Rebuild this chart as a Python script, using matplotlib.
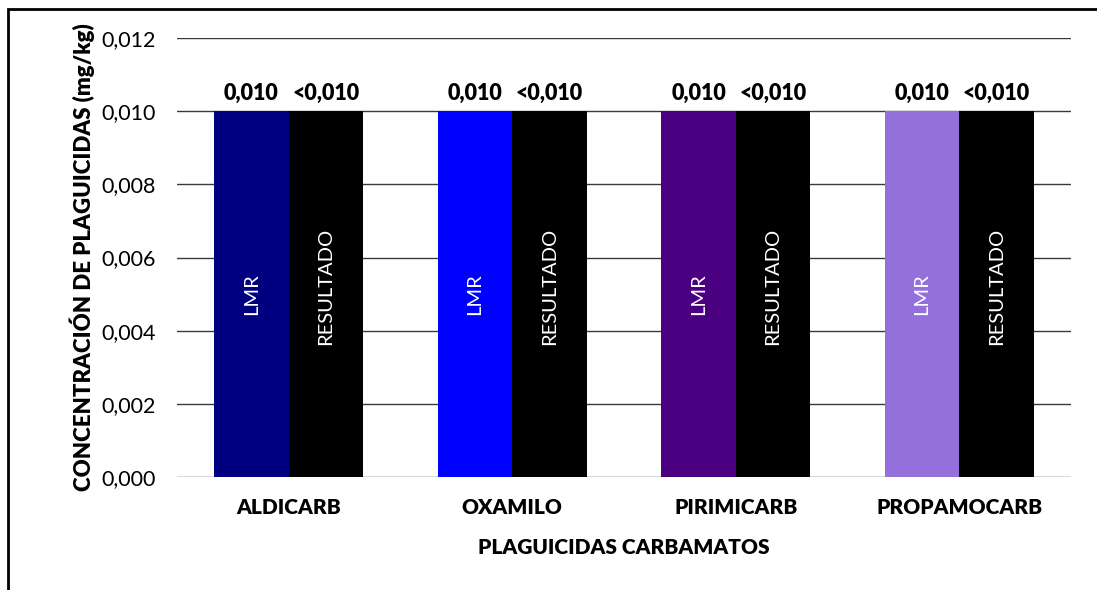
import matplotlib
matplotlib.use("Agg")
import matplotlib.pyplot as plt
from matplotlib.patches import Rectangle
import numpy as np

categories = ["ALDICARB", "OXAMILO", "PIRIMICARB", "PROPAMOCARB"]
lmr_values = [0.010, 0.010, 0.010, 0.010]
resultado_values = [0.010, 0.010, 0.010, 0.010]
lmr_labels = ["0,010", "0,010", "0,010", "0,010"]
resultado_labels = ["<0,010", "<0,010", "<0,010", "<0,010"]
lmr_colors = ["#000080", "#0000FF", "#4B0082", "#9370DB"]
resultado_color = "#000000"
yticks = [0.000, 0.002, 0.004, 0.006, 0.008, 0.010, 0.012]
ytick_labels = ["0,000", "0,002", "0,004", "0,006", "0,008", "0,010", "0,012"]

plt.rcParams['font.family'] = ['Lato', 'DejaVu Sans']
BW = 'heavy'

W, H = 1097, 590
fig = plt.figure(figsize=(W / 100, H / 100), dpi=100)
ax = fig.add_axes([177 / W, 1 - 477 / H, (1071 - 177) / W, (477 - 38) / H])

x = np.arange(len(categories))
bw = 1 / 3
ax.bar(x - bw / 2, lmr_values, bw, color=lmr_colors, zorder=3)
ax.bar(x + bw / 2, resultado_values, bw, color=resultado_color, zorder=3)

for i in range(len(categories)):
    ax.text(x[i] - bw / 2, lmr_values[i] + 0.0002, lmr_labels[i], ha='center', va='bottom',
            fontsize=15.5, fontweight=BW, color='black')
    ax.text(x[i] + bw / 2, resultado_values[i] + 0.0002, resultado_labels[i], ha='center', va='bottom',
            fontsize=15.5, fontweight=BW, color='black')
    ax.text(x[i] - bw / 2, lmr_values[i] / 2, "LMR", rotation=90, ha='center', va='center',
            fontsize=14.5, color='white', zorder=4)
    ax.text(x[i] + bw / 2, resultado_values[i] / 2 + 0.0002, "RESULTADO", rotation=90, ha='center', va='center',
            fontsize=14.5, color='white', zorder=4)

ax.set_xlim(-0.5, len(categories) - 0.5)
ax.set_ylim(0, 0.012)
ax.set_yticks(yticks)
ax.set_yticklabels(ytick_labels, fontsize=15.5)
ax.set_xticks(x)
ax.set_xticklabels(categories, fontsize=15, fontweight=BW)
ax.tick_params(axis='y', length=0, pad=15)
ax.tick_params(axis='x', length=0, pad=15)
ax.yaxis.grid(True, color='#3a3a3a', linewidth=1, zorder=0)
for s in ax.spines.values():
    s.set_visible(False)
ax.set_axisbelow(True)

ax.set_xlabel("PLAGUICIDAS CARBAMATOS", fontsize=15, fontweight=BW, labelpad=15)
ax.set_ylabel("CONCENTRACIÓN DE PLAGUICIDAS (mg/kg)", fontsize=16, fontweight=BW, labelpad=5)

fig.patches.append(Rectangle((8 / W, -0.5), 2, 0.5 + 1 - 9 / H, transform=fig.transFigure,
                             fill=False, edgecolor='black', linewidth=2))

fig.savefig("out.png", dpi=100)
